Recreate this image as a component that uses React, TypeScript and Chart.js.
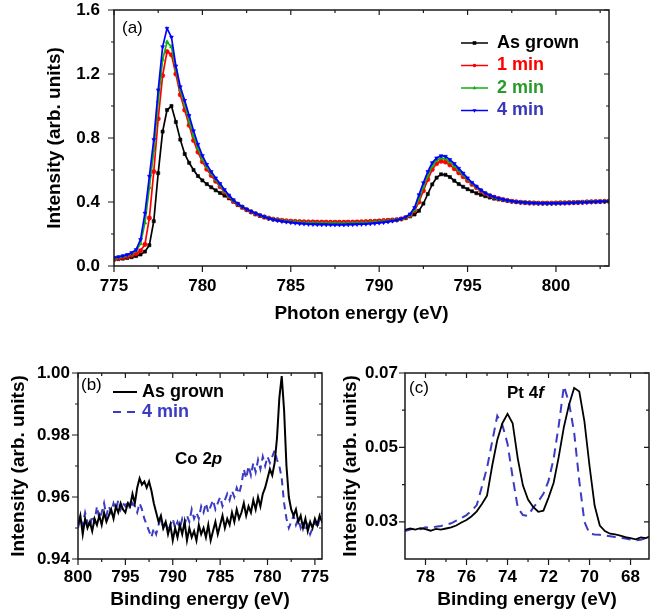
import React, { useEffect, useRef } from 'react';
import { Chart, registerables } from 'chart.js';

Chart.register(...registerables);

const FONT = "'Liberation Sans', Arial, Helvetica, sans-serif";

// ---------------- (a) Co L-edge XAS ----------------
const photonEnergy = Array.from({ length: 113 }, (_, i) => 775 + i * 0.25);

const xasAsGrown = [
  0.040, 0.043, 0.046, 0.050, 0.055, 0.062, 0.072, 0.090,
  0.130, 0.280, 0.580, 0.840, 0.975, 1.000, 0.900, 0.790,
  0.700, 0.645, 0.600, 0.562, 0.535, 0.512, 0.492, 0.473,
  0.456, 0.440, 0.423, 0.402, 0.381, 0.365, 0.350, 0.336,
  0.323, 0.313, 0.304, 0.297, 0.292, 0.288, 0.285, 0.282,
  0.280, 0.278, 0.277, 0.276, 0.275, 0.275, 0.274, 0.274,
  0.273, 0.273, 0.273, 0.273, 0.273, 0.274, 0.274, 0.275,
  0.276, 0.277, 0.278, 0.280, 0.282, 0.284, 0.286, 0.288,
  0.290, 0.294, 0.300, 0.310, 0.322, 0.345, 0.390, 0.450,
  0.510, 0.552, 0.573, 0.570, 0.556, 0.533, 0.512, 0.495,
  0.480, 0.467, 0.455, 0.445, 0.436, 0.428, 0.421, 0.416,
  0.412, 0.408, 0.404, 0.401, 0.399, 0.397, 0.396, 0.395,
  0.394, 0.394, 0.394, 0.394, 0.395, 0.396, 0.396, 0.397,
  0.398, 0.399, 0.400, 0.401, 0.402, 0.403, 0.403, 0.404,
  0.405,
];

const xas1min = [
  0.045, 0.049, 0.054, 0.060, 0.068, 0.078, 0.095, 0.135,
  0.300, 0.590, 0.920, 1.190, 1.340, 1.320, 1.200, 1.070,
  0.975, 0.880, 0.785, 0.712, 0.652, 0.605, 0.566, 0.530,
  0.496, 0.462, 0.432, 0.407, 0.386, 0.368, 0.352, 0.339,
  0.327, 0.316, 0.307, 0.299, 0.293, 0.289, 0.285, 0.282,
  0.280, 0.278, 0.277, 0.276, 0.275, 0.275, 0.274, 0.274,
  0.274, 0.273, 0.273, 0.273, 0.273, 0.274, 0.274, 0.275,
  0.276, 0.277, 0.278, 0.279, 0.281, 0.283, 0.285, 0.287,
  0.289, 0.294, 0.302, 0.316, 0.345, 0.400, 0.470, 0.540,
  0.603, 0.640, 0.655, 0.650, 0.632, 0.608, 0.583, 0.558,
  0.534, 0.510, 0.490, 0.470, 0.453, 0.440, 0.430, 0.422,
  0.416, 0.410, 0.405, 0.401, 0.398, 0.396, 0.394, 0.393,
  0.392, 0.392, 0.392, 0.392, 0.393, 0.394, 0.394, 0.395,
  0.396, 0.397, 0.398, 0.400, 0.401, 0.402, 0.403, 0.404,
  0.405,
];

const xas2min = [
  0.050, 0.054, 0.060, 0.067, 0.078, 0.095, 0.140, 0.270,
  0.490, 0.720, 1.030, 1.290, 1.400, 1.370, 1.230, 1.100,
  1.010, 0.905, 0.812, 0.735, 0.668, 0.620, 0.578, 0.540,
  0.505, 0.468, 0.436, 0.409, 0.388, 0.370, 0.354, 0.341,
  0.329, 0.318, 0.308, 0.299, 0.292, 0.287, 0.283, 0.279,
  0.276, 0.274, 0.272, 0.270, 0.269, 0.268, 0.267, 0.267,
  0.266, 0.266, 0.266, 0.266, 0.266, 0.267, 0.267, 0.268,
  0.269, 0.270, 0.272, 0.274, 0.276, 0.278, 0.281, 0.284,
  0.288, 0.294, 0.303, 0.318, 0.352, 0.420, 0.495, 0.565,
  0.625, 0.660, 0.675, 0.670, 0.650, 0.625, 0.597, 0.570,
  0.543, 0.517, 0.495, 0.473, 0.455, 0.441, 0.430, 0.422,
  0.416, 0.410, 0.405, 0.401, 0.398, 0.396, 0.394, 0.393,
  0.392, 0.391, 0.391, 0.391, 0.392, 0.393, 0.394, 0.395,
  0.396, 0.397, 0.398, 0.400, 0.401, 0.402, 0.403, 0.404,
  0.405,
];

const xas4min = [
  0.052, 0.057, 0.063, 0.071, 0.083, 0.102, 0.165, 0.330,
  0.560, 0.790, 1.100, 1.370, 1.485, 1.430, 1.250, 1.120,
  1.035, 0.940, 0.845, 0.760, 0.690, 0.635, 0.590, 0.550,
  0.515, 0.477, 0.443, 0.413, 0.390, 0.371, 0.355, 0.342,
  0.330, 0.318, 0.308, 0.298, 0.290, 0.284, 0.279, 0.275,
  0.271, 0.268, 0.265, 0.263, 0.261, 0.260, 0.259, 0.258,
  0.258, 0.257, 0.257, 0.257, 0.257, 0.258, 0.259, 0.260,
  0.261, 0.262, 0.264, 0.266, 0.269, 0.272, 0.276, 0.281,
  0.287, 0.295, 0.306, 0.325, 0.365, 0.445, 0.520, 0.590,
  0.645, 0.675, 0.689, 0.685, 0.665, 0.640, 0.610, 0.580,
  0.550, 0.522, 0.498, 0.475, 0.456, 0.442, 0.432, 0.423,
  0.416, 0.410, 0.405, 0.401, 0.398, 0.396, 0.394, 0.393,
  0.392, 0.391, 0.391, 0.391, 0.391, 0.392, 0.393, 0.394,
  0.395, 0.396, 0.397, 0.398, 0.400, 0.401, 0.402, 0.403,
  0.404,
];

const xasTicksX = [775, 780, 785, 790, 795, 800];
const xasMinorX = [777.5, 782.5, 787.5, 792.5, 797.5, 802.5];
const xasTicksY = [0, 0.4, 0.8, 1.2, 1.6];
const xasMinorY = [0.2, 0.6, 1.0, 1.4];

// ---------------- (b) Co 2p XPS ----------------
const coBinding = Array.from({ length: 105 }, (_, i) => 800 - i * 0.25);

const coAsGrown = [
  0.951, 0.954, 0.948, 0.953, 0.950, 0.952, 0.949, 0.953,
  0.951, 0.954, 0.951, 0.955, 0.952, 0.954, 0.956, 0.953,
  0.957, 0.955, 0.958, 0.956, 0.955, 0.958, 0.957, 0.961,
  0.958, 0.963, 0.966, 0.964, 0.965, 0.963, 0.965, 0.962,
  0.958, 0.955, 0.952, 0.954, 0.950, 0.952, 0.948, 0.951,
  0.946, 0.950, 0.947, 0.951, 0.948, 0.952, 0.946, 0.950,
  0.947, 0.949, 0.946, 0.951, 0.948, 0.950, 0.947, 0.951,
  0.946, 0.949, 0.952, 0.948, 0.951, 0.954, 0.950, 0.953,
  0.951, 0.955, 0.952, 0.956, 0.953, 0.955, 0.958, 0.954,
  0.957, 0.955, 0.959, 0.956, 0.960, 0.957, 0.961, 0.963,
  0.966, 0.969, 0.967, 0.971, 0.979, 0.992, 0.999, 0.988,
  0.970, 0.960, 0.956, 0.954, 0.956, 0.952, 0.954, 0.950,
  0.953, 0.949, 0.952, 0.950, 0.953, 0.951, 0.954, 0.952,
  0.953,
];

const co4min = [
  0.950, 0.953, 0.951, 0.955, 0.952, 0.950, 0.954, 0.952,
  0.957, 0.953, 0.955, 0.958, 0.954, 0.957, 0.955, 0.958,
  0.956, 0.959, 0.956, 0.958, 0.957, 0.959, 0.956, 0.958,
  0.957, 0.955, 0.958, 0.956, 0.953, 0.951, 0.949, 0.947,
  0.950, 0.948, 0.951, 0.953, 0.950, 0.952, 0.949, 0.951,
  0.953, 0.950, 0.952, 0.950, 0.953, 0.951, 0.954, 0.952,
  0.956, 0.953, 0.955, 0.953, 0.957, 0.955, 0.958, 0.955,
  0.957, 0.959, 0.956, 0.958, 0.960, 0.957, 0.959, 0.961,
  0.959, 0.962, 0.960, 0.963, 0.961, 0.964, 0.969, 0.966,
  0.970, 0.967, 0.971, 0.968, 0.972, 0.969, 0.973, 0.970,
  0.973, 0.971, 0.973, 0.975, 0.972, 0.970, 0.966, 0.958,
  0.953, 0.950, 0.952, 0.954, 0.951, 0.953, 0.950, 0.952,
  0.949, 0.951, 0.948, 0.950, 0.952, 0.950, 0.953, 0.955,
  0.954,
];

const coTicksX = [800, 795, 790, 785, 780, 775];
const coMinorX = [797.5, 792.5, 787.5, 782.5, 777.5];
const coTicksY = [0.94, 0.96, 0.98, 1.0];
const coMinorY = [0.95, 0.97, 0.99];

// ---------------- (c) Pt 4f XPS ----------------
const ptBinding = Array.from({ length: 49 }, (_, i) => 79 - i * 0.25);

const ptAsGrown = [
  0.0278, 0.0282, 0.0279, 0.0283, 0.0280, 0.0276, 0.0281, 0.0279,
  0.0282, 0.0285, 0.0290, 0.0298, 0.0305, 0.0315, 0.0328, 0.0348,
  0.0370, 0.0450, 0.0520, 0.0565, 0.0590, 0.0565, 0.0470, 0.0398,
  0.0360, 0.0340, 0.0327, 0.0330, 0.0365, 0.0405, 0.0475, 0.0555,
  0.0615, 0.0660, 0.0650, 0.0570, 0.0450, 0.0343, 0.0290, 0.0275,
  0.0268, 0.0266, 0.0263, 0.0259, 0.0256, 0.0253, 0.0258, 0.0256,
  0.0262,
];

const pt4min = [
  0.0275, 0.0279, 0.0283, 0.0280, 0.0285, 0.0283, 0.0287, 0.0289,
  0.0292, 0.0296, 0.0303, 0.0310, 0.0318, 0.0330, 0.0345, 0.0395,
  0.0445, 0.0515, 0.0585, 0.0560, 0.0510, 0.0420, 0.0338, 0.0318,
  0.0316, 0.0338, 0.0355, 0.0375, 0.0410, 0.0470, 0.0560, 0.0665,
  0.0620, 0.0540, 0.0410, 0.0300, 0.0268, 0.0266, 0.0265, 0.0263,
  0.0261, 0.0259, 0.0257, 0.0255, 0.0252, 0.0250, 0.0252, 0.0256,
  0.0258,
];

const ptTicksX = [78, 76, 74, 72, 70, 68];
const ptMinorX = [77, 75, 73, 71, 69];
const ptTicksY = [0.03, 0.05, 0.07];
const ptMinorY = [0.04, 0.06];

// ---------------- colours ----------------
const BLACK = '#000000';
const RED = '#ff0000';
const GREEN = '#10b010';
const BLUE = '#0000ff';
const XPS_BLUE = '#3b3bc4';

// ---------------- drawing helpers ----------------
type Part = { t: string; italic?: boolean };
type Label = { parts: Part[]; x: number; y: number; size: number; bold?: boolean; color?: string };
type LegendRow = {
  text: string; color: string; textColor: string; y: number;
  x1: number; x2: number; tx: number; width: number;
  dash?: number[]; marker?: string; size: number;
};

function marker(ctx: CanvasRenderingContext2D, style: string, x: number, y: number, r: number) {
  ctx.beginPath();
  if (style === 'rect') {
    ctx.rect(x - r, y - r, 2 * r, 2 * r);
  } else if (style === 'circle') {
    ctx.arc(x, y, r, 0, Math.PI * 2);
  } else if (style === 'triangle') {
    ctx.moveTo(x, y - r * 1.2);
    ctx.lineTo(x + r * 1.1, y + r * 0.7);
    ctx.lineTo(x - r * 1.1, y + r * 0.7);
    ctx.closePath();
  } else {
    ctx.moveTo(x, y + r * 1.2);
    ctx.lineTo(x + r * 1.1, y - r * 0.7);
    ctx.lineTo(x - r * 1.1, y - r * 0.7);
    ctx.closePath();
  }
  ctx.fill();
}

const framePlugin = {
  id: 'frame',
  afterDraw(chart: any, _args: any, o: any) {
    const { ctx, chartArea: a } = chart;
    const xs = chart.scales.x;
    const ys = chart.scales.y;
    ctx.save();
    ctx.strokeStyle = '#1a1a1a';
    ctx.lineWidth = 1.5;
    ctx.strokeRect(a.left, a.top, a.right - a.left, a.bottom - a.top);

    ctx.lineWidth = 1.2;
    ctx.beginPath();
    const seg = (x1: number, y1: number, x2: number, y2: number) => {
      ctx.moveTo(x1, y1);
      ctx.lineTo(x2, y2);
    };
    for (const v of o.xMajor) {
      const p = xs.getPixelForValue(v);
      seg(p, a.bottom, p, a.bottom + 6);
      seg(p, a.top, p, a.top + 5);
    }
    for (const v of o.xMinor) {
      const p = xs.getPixelForValue(v);
      seg(p, a.bottom, p, a.bottom + 3);
      seg(p, a.top, p, a.top + 3);
    }
    for (const v of o.yMajor) {
      const p = ys.getPixelForValue(v);
      seg(a.left, p, a.left - 6, p);
      seg(a.right, p, a.right - 5, p);
    }
    for (const v of o.yMinor) {
      const p = ys.getPixelForValue(v);
      seg(a.left, p, a.left - 3, p);
      seg(a.right, p, a.right - 3, p);
    }
    ctx.stroke();

    // panel letters and annotations
    ctx.textBaseline = 'middle';
    ctx.textAlign = 'left';
    for (const l of (o.labels || []) as Label[]) {
      let x = l.x;
      for (const p of l.parts) {
        ctx.font = `${p.italic ? 'italic ' : ''}${l.bold ? 'bold ' : ''}${l.size}px ${FONT}`;
        ctx.fillStyle = l.color || '#000';
        ctx.fillText(p.t, x, l.y);
        x += ctx.measureText(p.t).width;
      }
    }

    // legend rows
    for (const r of (o.legend || []) as LegendRow[]) {
      ctx.strokeStyle = r.color;
      ctx.lineWidth = r.width;
      ctx.setLineDash(r.dash || []);
      ctx.beginPath();
      ctx.moveTo(r.x1, r.y);
      ctx.lineTo(r.x2, r.y);
      ctx.stroke();
      ctx.setLineDash([]);
      if (r.marker) {
        ctx.fillStyle = r.color;
        marker(ctx, r.marker, (r.x1 + r.x2) / 2, r.y, 1.8);
      }
      ctx.font = `bold ${r.size}px ${FONT}`;
      ctx.fillStyle = r.textColor;
      ctx.fillText(r.text, r.tx, r.y);
    }
    ctx.restore();
  },
};

type AxisSpec = {
  min: number; max: number; reverse?: boolean;
  ticks: number[]; digits: number;
  box: number; tickPad: number;
  title: string; titlePad: number;
};

const tickFont = { family: FONT, size: 17, weight: 'bold' };
const titleFont = { family: FONT, size: 19, weight: 'bold' };

function xAxis(s: AxisSpec) {
  return {
    type: 'linear',
    min: s.min,
    max: s.max,
    reverse: !!s.reverse,
    afterBuildTicks: (sc: any) => { sc.ticks = s.ticks.map((value) => ({ value })); },
    afterFit: (sc: any) => {
      sc.height = s.box;
      sc.paddingLeft = 0;
      sc.paddingRight = 0;
    },
    grid: { display: false, drawTicks: false },
    border: { display: false },
    ticks: {
      color: '#000',
      font: tickFont,
      padding: s.tickPad,
      maxRotation: 0,
      autoSkip: false,
      callback: (v: number) => v.toFixed(s.digits),
    },
    title: {
      display: true,
      text: s.title,
      color: '#000',
      font: titleFont,
      padding: { top: 0, bottom: s.titlePad },
    },
  };
}

function yAxis(s: AxisSpec) {
  return {
    type: 'linear',
    min: s.min,
    max: s.max,
    afterBuildTicks: (sc: any) => { sc.ticks = s.ticks.map((value) => ({ value })); },
    afterFit: (sc: any) => {
      sc.width = s.box;
      sc.paddingTop = 0;
      sc.paddingBottom = 0;
    },
    grid: { display: false, drawTicks: false },
    border: { display: false },
    ticks: {
      color: '#000',
      font: tickFont,
      padding: s.tickPad,
      autoSkip: false,
      callback: (v: number) => v.toFixed(s.digits),
    },
    title: {
      display: true,
      text: s.title,
      color: '#000',
      font: titleFont,
      padding: { top: s.titlePad, bottom: 0 },
    },
  };
}

const pairs = (xs: number[], ys: number[]) => xs.map((x, i) => ({ x, y: ys[i] }));

const baseOptions = {
  animation: false,
  responsive: false,
  devicePixelRatio: 1,
  events: [],
};

function xasConfig(): any {
  const series = [
    { label: 'As grown', values: xasAsGrown, color: BLACK, text: '#000000', style: 'rect', order: 3 },
    { label: '1 min', values: xas1min, color: RED, text: '#ff0000', style: 'circle', order: 2 },
    { label: '2 min', values: xas2min, color: GREEN, text: '#2a9a2a', style: 'triangle', order: 1 },
    { label: '4 min', values: xas4min, color: BLUE, text: '#3838b8', style: 'down', order: 0 },
  ];
  return {
    type: 'line',
    data: {
      datasets: series.map((s) => ({
        label: s.label,
        data: pairs(photonEnergy, s.values),
        borderColor: s.color,
        backgroundColor: s.color,
        borderWidth: 1.7,
        pointStyle: s.style === 'down' ? 'triangle' : s.style,
        rotation: s.style === 'down' ? 180 : 0,
        pointRadius: 2.2,
        pointBorderWidth: 0.6,
        pointBorderColor: s.color,
        pointBackgroundColor: s.color,
        tension: 0,
        order: s.order,
      })),
    },
    options: {
      ...baseOptions,
      layout: { autoPadding: false, padding: { left: 0, top: 10, right: 41, bottom: 0 } },
      scales: {
        x: xAxis({ min: 775, max: 803, ticks: xasTicksX, digits: 0, box: 74, tickPad: 10, title: 'Photon energy (eV)', titlePad: 15 }),
        y: yAxis({ min: 0, max: 1.6, ticks: xasTicksY, digits: 1, box: 114, tickPad: 14, title: 'Intensity (arb. units)', titlePad: 43 }),
      },
      plugins: {
        legend: { display: false },
        tooltip: { enabled: false },
        frame: {
          xMajor: xasTicksX, xMinor: xasMinorX, yMajor: xasTicksY, yMinor: xasMinorY,
          labels: [{ parts: [{ t: '(a)' }], x: 122, y: 28, size: 17 }],
          legend: series.map((s, i) => ({
            text: s.label, color: s.color, textColor: s.text, y: 43 + 22.5 * i,
            x1: 461, x2: 488, tx: 497, width: 1.5, marker: s.style, size: 18,
          })),
        },
      },
    },
    plugins: [framePlugin],
  };
}

function coConfig(): any {
  return {
    type: 'line',
    data: {
      datasets: [
        { label: 'As grown', data: pairs(coBinding, coAsGrown), borderColor: BLACK, borderWidth: 2, pointRadius: 0, tension: 0, order: 0 },
        { label: '4 min', data: pairs(coBinding, co4min), borderColor: XPS_BLUE, borderWidth: 2, borderDash: [7, 5], pointRadius: 0, tension: 0, order: 1 },
      ],
    },
    options: {
      ...baseOptions,
      layout: { autoPadding: false, padding: { left: 0, top: 28, right: 8, bottom: 0 } },
      scales: {
        x: xAxis({ min: 774.25, max: 800, reverse: true, ticks: coTicksX, digits: 0, box: 54, tickPad: 8, title: 'Binding energy (eV)', titlePad: 2 }),
        y: yAxis({ min: 0.94, max: 1.0, ticks: coTicksY, digits: 2, box: 78, tickPad: 8, title: 'Intensity (arb. units)', titlePad: 7 }),
      },
      plugins: {
        legend: { display: false },
        tooltip: { enabled: false },
        frame: {
          xMajor: coTicksX, xMinor: coMinorX, yMajor: coTicksY, yMinor: coMinorY,
          labels: [
            { parts: [{ t: '(b)' }], x: 81, y: 40, size: 17 },
            { parts: [{ t: 'Co 2' }, { t: 'p', italic: true }], x: 175, y: 114, size: 17, bold: true },
          ],
          legend: [
            { text: 'As grown', color: BLACK, textColor: '#000', y: 47, x1: 113, x2: 137, tx: 142, width: 2, size: 18 },
            { text: '4 min', color: XPS_BLUE, textColor: XPS_BLUE, y: 67, x1: 113, x2: 137, tx: 142, width: 2, dash: [8, 6], size: 18 },
          ],
        },
      },
    },
    plugins: [framePlugin],
  };
}

function ptConfig(): any {
  return {
    type: 'line',
    data: {
      datasets: [
        { label: 'As grown', data: pairs(ptBinding, ptAsGrown), borderColor: BLACK, borderWidth: 1.8, pointRadius: 0, tension: 0, order: 0 },
        { label: '4 min', data: pairs(ptBinding, pt4min), borderColor: XPS_BLUE, borderWidth: 2, borderDash: [9, 6], pointRadius: 0, tension: 0, order: 1 },
      ],
    },
    options: {
      ...baseOptions,
      layout: { autoPadding: false, padding: { left: 0, top: 28, right: 1, bottom: 0 } },
      scales: {
        x: xAxis({ min: 67.1, max: 79, reverse: true, ticks: ptTicksX, digits: 0, box: 54, tickPad: 8, title: 'Binding energy (eV)', titlePad: 2 }),
        y: yAxis({ min: 0.02, max: 0.07, ticks: ptTicksY, digits: 2, box: 75, tickPad: 7, title: 'Intensity (arb. units)', titlePad: 9 }),
      },
      plugins: {
        legend: { display: false },
        tooltip: { enabled: false },
        frame: {
          xMajor: ptTicksX, xMinor: ptMinorX, yMajor: ptTicksY, yMinor: ptMinorY,
          labels: [
            { parts: [{ t: '(c)' }], x: 79, y: 43, size: 17 },
            { parts: [{ t: 'Pt 4' }, { t: 'f', italic: true }], x: 177, y: 48, size: 17, bold: true },
          ],
        },
      },
    },
    plugins: [framePlugin],
  };
}

function Panel(props: { left: number; top: number; width: number; height: number; build: () => any }) {
  const ref = useRef<HTMLCanvasElement>(null);
  useEffect(() => {
    const chart = new Chart(ref.current as HTMLCanvasElement, props.build());
    return () => chart.destroy();
  }, []);
  return (
    <canvas
      ref={ref}
      width={props.width}
      height={props.height}
      style={{ position: 'absolute', left: props.left, top: props.top, width: props.width, height: props.height }}
    />
  );
}

export default function App() {
  return (
    <div style={{ position: 'absolute', left: 0, top: 0, width: 650, height: 613, background: '#fff', overflow: 'hidden' }}>
      <Panel left={0} top={0} width={650} height={340} build={xasConfig} />
      <Panel left={0} top={345} width={330} height={268} build={coConfig} />
      <Panel left={330} top={345} width={320} height={268} build={ptConfig} />
    </div>
  );
}
